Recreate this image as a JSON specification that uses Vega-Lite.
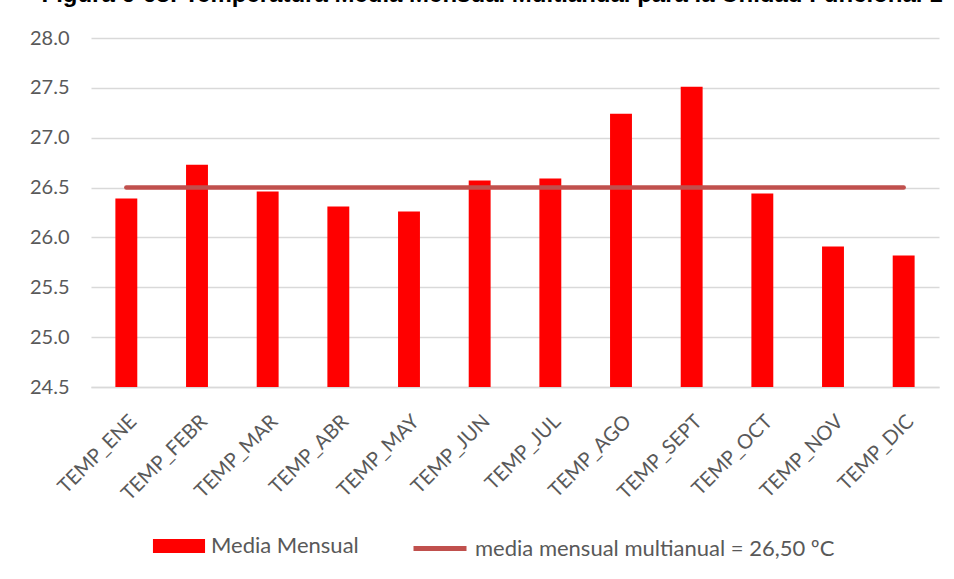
{
  "$schema": "https://vega.github.io/schema/vega-lite/v6.json",
  "width": 848,
  "height": 349,
  "autosize": {"type": "none"},
  "padding": {"left": 91, "top": 38, "right": 15, "bottom": 192},
  "background": "white",
  "title": {
    "text": "Figura 6-68: Temperatura Media Mensual Multianual para la Unidad Funcional 1",
    "font": "Liberation Sans",
    "fontSize": 24,
    "fontWeight": "bold",
    "color": "#000000",
    "anchor": "middle",
    "baseline": "alphabetic",
    "offset": 12,
    "dx": -23,
    "dy": 10
  },
  "data": {
    "values": [
      {"mes": "TEMP_ENE", "temp": 26.39, "media": 26.5},
      {"mes": "TEMP_FEBR", "temp": 26.73, "media": 26.5},
      {"mes": "TEMP_MAR", "temp": 26.46, "media": 26.5},
      {"mes": "TEMP_ABR", "temp": 26.31, "media": 26.5},
      {"mes": "TEMP_MAY", "temp": 26.26, "media": 26.5},
      {"mes": "TEMP_JUN", "temp": 26.57, "media": 26.5},
      {"mes": "TEMP_JUL", "temp": 26.59, "media": 26.5},
      {"mes": "TEMP_AGO", "temp": 27.24, "media": 26.5},
      {"mes": "TEMP_SEPT", "temp": 27.51, "media": 26.5},
      {"mes": "TEMP_OCT", "temp": 26.44, "media": 26.5},
      {"mes": "TEMP_NOV", "temp": 25.91, "media": 26.5},
      {"mes": "TEMP_DIC", "temp": 25.82, "media": 26.5}
    ]
  },
  "encoding": {
    "x": {
      "field": "mes",
      "type": "nominal",
      "sort": null,
      "scale": {"paddingInner": 0.69, "paddingOuter": 0.345},
      "axis": {
        "title": null,
        "labelAngle": -45,
        "labelAlign": "right",
        "labelBaseline": "top",
        "labelPadding": 24,
        "labelFont": "Lato",
        "labelFontSize": 20,
        "labelColor": "#595959",
        "ticks": false,
        "domainColor": "#d9d9d9",
        "domainWidth": 1.5,
        "grid": false
      }
    }
  },
  "layer": [
    {
      "mark": {"type": "bar", "color": "#ff0000"},
      "encoding": {
        "y": {
          "field": "temp",
          "type": "quantitative",
          "scale": {"domain": [24.5, 28], "zero": false, "nice": false},
          "axis": {
            "title": null,
            "values": [24.5, 25, 25.5, 26, 26.5, 27, 27.5, 28],
            "format": ".1f",
            "labelFont": "Lato",
            "labelFontSize": 20,
            "labelColor": "#595959",
            "labelPadding": 22,
            "ticks": false,
            "domain": false,
            "gridColor": "#d9d9d9",
            "gridWidth": 1.5
          }
        },
        "y2": {"datum": 24.5},
        "color": {
          "datum": "Media Mensual",
          "scale": {"range": ["#ff0000"]},
          "legend": {
            "title": null,
            "orient": "none",
            "legendX": 74,
            "legendY": 494,
            "symbolType": "M-1.86,-0.5H1.86V0.5H-1.86Z",
            "symbolSize": 784,
            "symbolStrokeWidth": 0,
            "labelFont": "Lato",
            "labelFontSize": 22,
            "labelColor": "#595959",
            "labelOffset": 18,
            "labelLimit": 0
          }
        }
      }
    },
    {
      "mark": {"type": "line", "strokeWidth": 4.5, "strokeCap": "round"},
      "encoding": {
        "y": {"field": "media", "type": "quantitative"},
        "stroke": {
          "datum": "media mensual multianual = 26,50 ºC",
          "scale": {"range": ["#c0504d"]},
          "legend": {
            "title": null,
            "orient": "none",
            "legendX": 320,
            "legendY": 481.5,
            "symbolType": "stroke",
            "symbolSize": 2809,
            "symbolStrokeWidth": 5,
            "labelFont": "Lato",
            "labelFontSize": 22,
            "labelColor": "#595959",
            "labelOffset": 6,
            "labelLimit": 0
          }
        }
      }
    }
  ],
  "config": {
    "view": {"stroke": null}
  }
}
